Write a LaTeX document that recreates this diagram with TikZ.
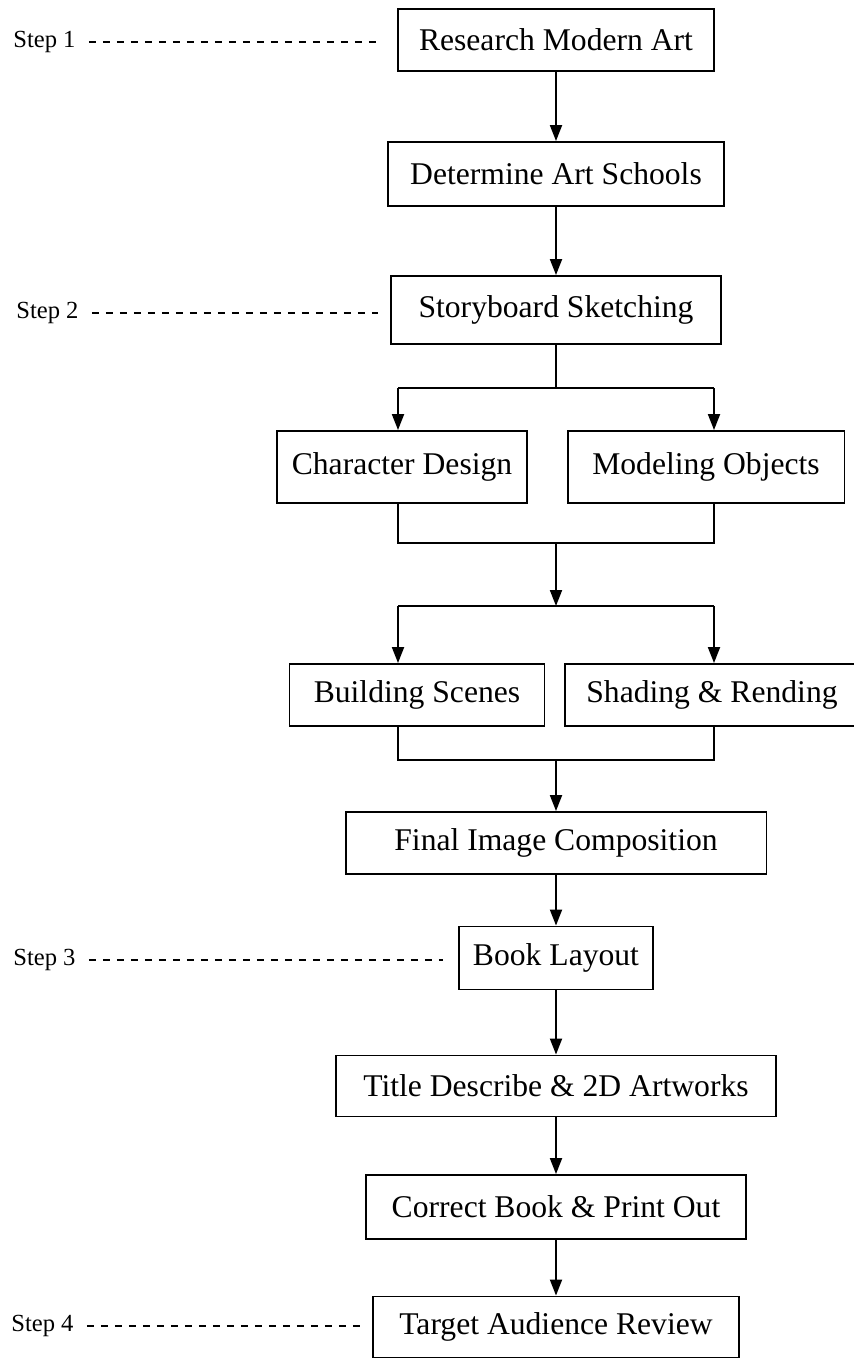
\documentclass[tikz,border=0pt]{standalone}
\usepackage{fontspec}
\setmainfont{Liberation Serif}
\usetikzlibrary{arrows.meta}

\tikzset{
  stage/.style={draw, line width=1.1pt, inner sep=0pt, font=\fontsize{18}{21}\selectfont},
  steplabel/.style={anchor=west, inner sep=0pt, font=\fontsize{14}{16}\selectfont},
  stepline/.style={line width=1pt, dash pattern=on 0.146cm off 0.134cm, shorten <=0.26cm},
  link/.style={line width=1.1pt},
  >={Triangle[length=0.32cm,width=0.24cm]}
}

\begin{document}
\begin{tikzpicture}[x=0.02cm, y=-0.02cm]
   \useasboundingbox (0,0) rectangle (854,1359);
   % main column
   \node[stage, minimum width=6.32cm, minimum height=1.24cm] (rma) at (556,40) {Research Modern Art};
   \node[stage, minimum width=6.72cm, minimum height=1.28cm] (das) at (556,174) {Determine Art Schools};
   \node[stage, minimum width=6.6cm, minimum height=1.36cm] (ss) at (556,310) {Storyboard Sketching};
   \node[stage, minimum width=5cm, minimum height=1.44cm] (cd) at (402,467) {Character Design};
   \node[stage, minimum width=5.54cm, minimum height=1.44cm] (mo) at (706,467) {Modeling Objects};
   \node[stage, minimum width=5.1cm, minimum height=1.24cm] (bs) at (417,695) {Building Scenes};
   \node[stage, minimum width=5.9cm, minimum height=1.24cm] (sr) at (712,695) {Shading \& Rending};
   \node[stage, minimum width=8.42cm, minimum height=1.24cm] (fic) at (556,843) {Final Image Composition};
   \node[stage, minimum width=3.88cm, minimum height=1.26cm] (bl) at (556,958) {Book Layout};
   \node[stage, minimum width=8.8cm, minimum height=1.22cm] (tda) at (556,1086) {Title Describe \& 2D Artworks};
   \node[stage, minimum width=7.6cm, minimum height=1.28cm] (cbp) at (556,1207) {Correct Book \& Print Out};
   \node[stage, minimum width=7.32cm, minimum height=1.22cm] (tar) at (556,1327) {Target Audience Review};

   % steps
   \node[steplabel] (step1) at (13,42) {Step 1};
   \node[steplabel] (step2) at (16,313) {Step 2};
   \node[steplabel] (step3) at (13,960) {Step 3};
   \node[steplabel] (step4) at (11,1326) {Step 4};
   \draw[stepline, shorten >=0.36cm] (step1.east) -- (step1.east -| rma.west);
   \draw[stepline, shorten >=0.24cm] (step2.east) -- (step2.east -| ss.west);
   \draw[stepline, shorten >=0.3cm] (step3.east) -- (step3.east -| bl.west);
   \draw[stepline, shorten >=0.16cm] (step4.east) -- (step4.east -| tar.west);

   % forks and joins
   \coordinate (f1) at (556,388);
   \coordinate (f1l) at (398,388);
   \coordinate (f1r) at (714,388);
   \coordinate (j1) at (556,543);
   \coordinate (j1l) at (398,543);
   \coordinate (j1r) at (714,543);
   \coordinate (f2) at (556,606);
   \coordinate (f2l) at (398,606);
   \coordinate (f2r) at (714,606);
   \coordinate (j2) at (556,760);
   \coordinate (j2l) at (398,760);
   \coordinate (j2r) at (714,760);

   \draw[link, ->] (rma) -- (das);
   \draw[link, ->] (das) -- (ss);
   \draw[link] (ss) -- (f1);
   \draw[link] (f1l) -- (f1r);
   \draw[link, ->] (f1l) -- (f1l |- cd.north);
   \draw[link, ->] (f1r) -- (f1r |- mo.north);
   \draw[link] (j1l |- cd.south) -- (j1l) -- (j1r) -- (j1r |- mo.south);
   \draw[link, ->] (j1) -- (f2);
   \draw[link] (f2l) -- (f2r);
   \draw[link, ->] (f2l) -- (f2l |- bs.north);
   \draw[link, ->] (f2r) -- (f2r |- sr.north);
   \draw[link] (j2l |- bs.south) -- (j2l) -- (j2r) -- (j2r |- sr.south);
   \draw[link, ->] (j2) -- (fic);
   \draw[link, ->] (fic) -- (bl);
   \draw[link, ->] (bl) -- (tda);
   \draw[link, ->] (tda) -- (cbp);
   \draw[link, ->] (cbp) -- (tar);
\end{tikzpicture}
\end{document}
